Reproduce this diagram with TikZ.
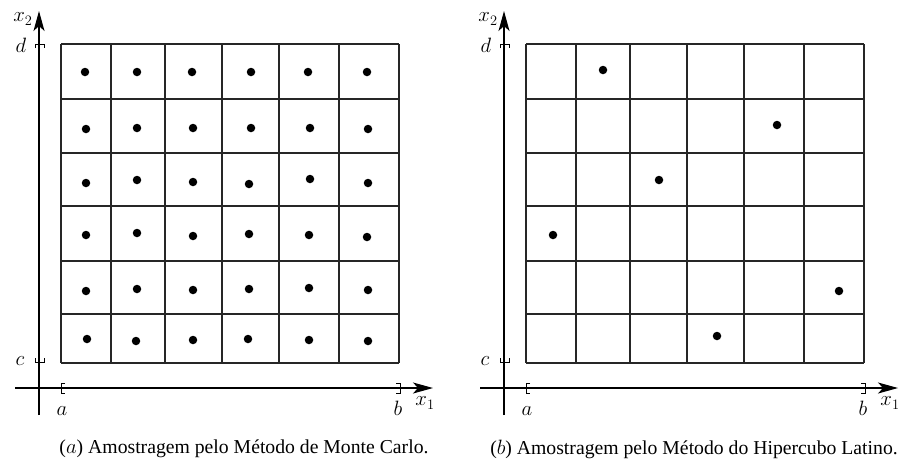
\documentclass[tikz,border=0pt]{standalone}
\usepackage{fontspec}
\setmainfont{Liberation Serif}
\usetikzlibrary{arrows.meta}

\begin{document}
\begin{tikzpicture}[x=1pt, y=-1pt,
axis/.style={line width=1.2pt, -{Stealth[length=20pt, width=11pt, inset=5pt]}},
cell/.style={line width=1.2pt, draw=black!85},
tick/.style={line width=1pt},
sample/.style={circle, fill=black, inner sep=0pt, minimum size=8.5pt},
lbl/.style={font=\fontsize{21}{23}\selectfont, inner sep=1pt},
caption/.style={font=\fontsize{19.7}{23}\selectfont}
]
\useasboundingbox (0,0) rectangle (904,467);

% two panels: axes, bounds and 6x6 grid
\foreach \ox/\p in {0/a, 465/b}{
  \begin{scope}[xshift=\ox]
    \coordinate (\p-xs) at (15,388);
    \coordinate (\p-xe) at (433,388);
    \coordinate (\p-ys) at (39,415);
    \coordinate (\p-ye) at (39,11);
    \draw[axis] (\p-xs) -- (\p-xe);
    \draw[axis] (\p-ys) -- (\p-ye);

    % interval marks
    \draw[tick] (35,48) -- (35,44) -- (44,44) -- (44,48);
    \draw[tick] (35,358) -- (35,362) -- (44,362) -- (44,358);
    \draw[tick] (65,383) -- (61,383) -- (61,393) -- (65,393);
    \draw[tick] (396,383) -- (400,383) -- (400,393) -- (396,393);

    \node[lbl] (\p-d) at (21,45) {$d$};
    \node[lbl] (\p-c) at (20,361) {$c$};
    \node[lbl] (\p-a) at (62,411) {$a$};
    \node[lbl] (\p-b) at (398,408) {$b$};
    \node[lbl] (\p-x1) at (425,403) {$x_1$};
    \node[lbl] (\p-x2) at (23,19) {$x_2$};

    \foreach \gx in {61,111,165,222,279,339,399}
      \draw[cell] (\gx,44) -- (\gx,363);
    \foreach \gy in {44,99,153,206,261,314,363}
      \draw[cell] (61,\gy) -- (399,\gy);
  \end{scope}
}

% Monte Carlo samples, one per cell
\foreach \sx/\sy [count=\k] in {
  85/72, 137/72, 192/72, 251/72, 308/72, 367/72,
  86/129, 137/128, 193/128, 251/128, 310/128, 368/129,
  86/183, 137/180, 193/182, 249/184, 310/179, 368/183,
  86/235, 137/233, 193/236, 249/234, 309/235, 367/237,
  86/291, 137/289, 193/290, 249/289, 309/288, 368/290,
  87/339, 136/341, 193/340, 248/339, 309/340, 368/341}
  \node[sample] (mc\k) at (\sx,\sy) {};

% Latin hypercube samples, one per row and column
\node[sample] (lh1) at (603,70) {};
\node[sample] (lh2) at (777,125) {};
\node[sample] (lh3) at (659,180) {};
\node[sample] (lh4) at (553,235) {};
\node[sample] (lh5) at (839,291) {};
\node[sample] (lh6) at (717,336) {};

\node[caption] (cap-a) at (244,449) {($a$) Amostragem pelo Método de Monte Carlo.};
\node[caption] (cap-b) at (694,449) {($b$) Amostragem pelo Método do Hipercubo Latino.};
\end{tikzpicture}
\end{document}
